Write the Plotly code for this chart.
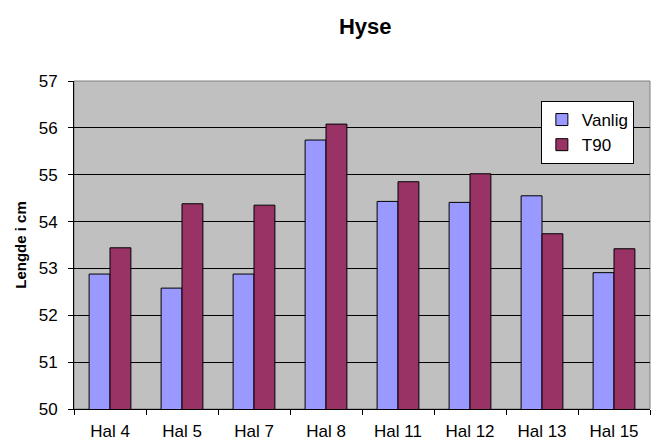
import plotly.graph_objects as go

categories = ["Hal 4", "Hal 5", "Hal 7", "Hal 8", "Hal 11", "Hal 12", "Hal 13", "Hal 15"]
vanlig = [52.88, 52.58, 52.88, 55.74, 54.43, 54.41, 54.55, 52.91]
t90 = [53.44, 54.38, 54.35, 56.08, 54.85, 55.02, 53.74, 53.42]

font = "Liberation Sans, Arial, sans-serif"

fig = go.Figure()
fig.add_trace(go.Bar(x=categories, y=vanlig, name="Vanlig",
                     marker=dict(color="#9999FF", line=dict(color="black", width=1))))
fig.add_trace(go.Bar(x=categories, y=t90, name="T90",
                     marker=dict(color="#993366", line=dict(color="black", width=1))))

fig.update_layout(
    width=651, height=443,
    margin=dict(l=74, r=1, t=81, b=34),
    paper_bgcolor="white",
    plot_bgcolor="#C0C0C0",
    barmode="group",
    bargap=0.42,
    bargroupgap=0,
    font=dict(family=font, size=17, color="black"),
    title=dict(text="<b>Hyse</b>", x=0.561, xanchor="center", y=0.94, yanchor="middle",
               font=dict(family=font, size=22, color="black")),
    legend=dict(x=0.972, y=0.939, xanchor="right", yanchor="top",
                bgcolor="white", bordercolor="black", borderwidth=1,
                font=dict(family=font, size=17, color="black"),
                itemwidth=30, tracegroupgap=0),
    shapes=[dict(type="rect", xref="paper", yref="paper", x0=0, y0=0, x1=1, y1=1,
                 line=dict(color="#808080", width=1), layer="below")],
)
fig.update_xaxes(
    tickson="boundaries", ticks="outside", ticklen=5, tickcolor="black",
    showline=True, linecolor="black", linewidth=1,
    tickfont=dict(family=font, size=17, color="black"),
    ticklabelstandoff=7,
)
fig.update_yaxes(
    range=[50, 57], dtick=1, ticks="outside", ticklen=5, tickcolor="black",
    showline=True, linecolor="black", linewidth=1,
    showgrid=True, gridcolor="black", gridwidth=1,
    tickfont=dict(family=font, size=17, color="black"),
    ticklabelstandoff=7,
    title=dict(text="<b>Lengde i cm</b>", font=dict(family=font, size=15, color="black"), standoff=8),
)

fig.write_html("out.html", config={"displayModeBar": False},
               post_script="document.body.style.margin='0';document.body.style.padding='0';")
